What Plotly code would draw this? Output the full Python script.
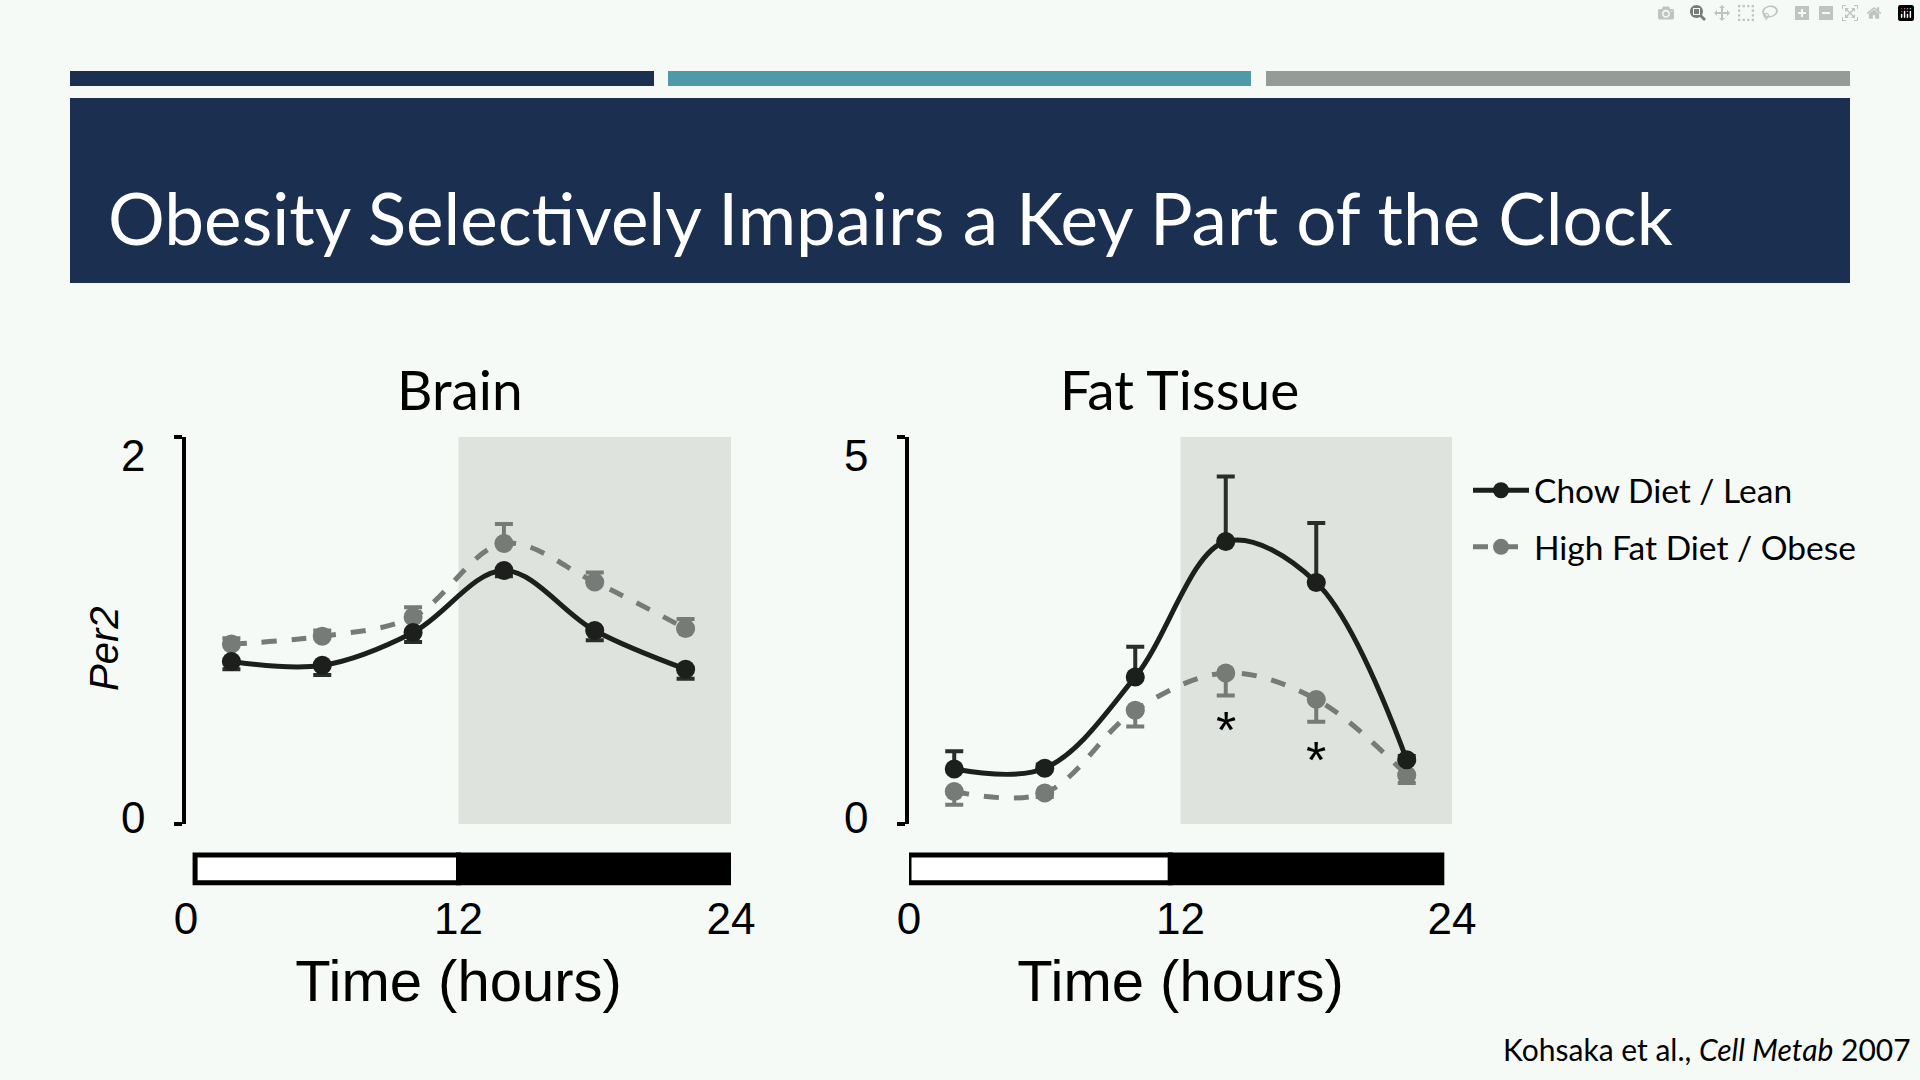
import plotly.graph_objects as go

# ------------------------------------------
# data (Per2 expression)
# ------------------------------------------
hours = [2, 6, 10, 14, 18, 22]

brain_chow = [0.84, 0.82, 0.99, 1.31, 1.00, 0.80]
brain_chow_err = [0.04, 0.05, 0.05, 0.03, 0.05, 0.05]
brain_hfd = [0.93, 0.97, 1.07, 1.45, 1.25, 1.01]
brain_hfd_err = [0.03, 0.03, 0.05, 0.10, 0.05, 0.05]

fat_chow = [0.71, 0.72, 1.90, 3.65, 3.12, 0.83]
fat_chow_err = [0.23, 0.05, 0.39, 0.84, 0.77, 0.05]
fat_hfd = [0.42, 0.40, 1.47, 1.95, 1.61, 0.63]
fat_hfd_err = [0.17, 0.05, 0.21, 0.29, 0.29, 0.10]

light_phase = [0.4, 12]
dark_phase = [12, 24]
x_ticks = [0, 12, 24]
brain_yticks = [0, 2]
fat_yticks = [0, 5]

CHOW = "#1c1f1c"
HFD = "#777b77"
BG = "#f6faf6"
SHADE = "#dfe3de"
W, H = 1920, 1080


def px_x(v):
    return v / W


def px_y(v):
    return 1 - v / H


fig = go.Figure()

panels = [
    ("x", "y", brain_chow, brain_chow_err, brain_hfd, brain_hfd_err, False),
    ("x2", "y2", fat_chow, fat_chow_err, fat_hfd, fat_hfd_err, True),
]

for xa, ya, chow, chow_err, hfd, hfd_err, legend in panels:
    brain = xa == "x"
    fig.add_trace(go.Scatter(
        x=hours, y=hfd, xaxis=xa, yaxis=ya,
        mode="lines+markers", name="High Fat Diet / Obese",
        legendgroup="hfd", legendrank=2, showlegend=legend,
        line=dict(color=HFD, width=5, dash="dash", shape="spline"),
        marker=dict(size=19, color=HFD),
        error_y=dict(type="data", symmetric=False,
                     array=hfd_err if brain else [0] * 6,
                     arrayminus=[0] * 6 if brain else hfd_err,
                     color=HFD, thickness=4, width=9),
    ))
    fig.add_trace(go.Scatter(
        x=hours, y=chow, xaxis=xa, yaxis=ya,
        mode="lines+markers", name="Chow Diet / Lean",
        legendgroup="chow", legendrank=1, showlegend=legend,
        line=dict(color=CHOW, width=5, shape="spline"),
        marker=dict(size=19, color=CHOW),
        error_y=dict(type="data", symmetric=False,
                     array=[0] * 6 if brain else chow_err,
                     arrayminus=chow_err if brain else [0] * 6,
                     color="#2a2e2a", thickness=4, width=9),
    ))

shapes = [
    # header bars + banner
    dict(type="rect", xref="paper", yref="paper", x0=px_x(70), x1=px_x(654),
         y0=px_y(86), y1=px_y(71), fillcolor="#1b2f50", line_width=0),
    dict(type="rect", xref="paper", yref="paper", x0=px_x(668), x1=px_x(1251),
         y0=px_y(86), y1=px_y(71), fillcolor="#4f9aa8", line_width=0),
    dict(type="rect", xref="paper", yref="paper", x0=px_x(1266), x1=px_x(1850),
         y0=px_y(86), y1=px_y(71), fillcolor="#949c98", line_width=0),
    dict(type="rect", xref="paper", yref="paper", x0=px_x(70), x1=px_x(1850),
         y0=px_y(283), y1=px_y(98), fillcolor="#1b3050", line_width=0),
]

# the fat-tissue light/dark bar sits a little left in the original figure
for xa, ya, shift in [("x", "y", 0), ("x2", "y2", -0.45)]:
    # dark phase shading
    shapes.append(dict(type="rect", xref=xa, yref=ya + " domain",
                       x0=dark_phase[0], x1=dark_phase[1], y0=0, y1=1,
                       fillcolor=SHADE, line_width=0, layer="below"))
    # light/dark bar under the axis
    shapes.append(dict(type="rect", xref=xa, yref=ya + " domain",
                       x0=max(light_phase[0] + shift, 0), x1=light_phase[1] + shift,
                       y0=-0.152, y1=-0.080,
                       fillcolor="white", line=dict(color="black", width=5)))
    shapes.append(dict(type="rect", xref=xa, yref=ya + " domain",
                       x0=dark_phase[0] + shift, x1=dark_phase[1] + shift,
                       y0=-0.152, y1=-0.080,
                       fillcolor="black", line=dict(color="black", width=5)))

tick_font = dict(family="Liberation Sans", size=44, color="black")
title_font = dict(family="Liberation Sans", size=58, color="black")

xcommon = dict(range=[0, 24], anchor="free", position=px_y(883),
               tickvals=x_ticks, showline=False, showgrid=False,
               zeroline=False, ticks="", tickfont=tick_font,
               ticklabelstandoff=6, automargin=False,
               title=dict(text="Time (hours)", font=title_font, standoff=18))
ycommon = dict(domain=[px_y(824), px_y(437)], showline=True, linewidth=4,
               linecolor="black", ticks="outside", ticklen=8, tickwidth=4,
               tickcolor="black", showgrid=False, zeroline=False,
               showticklabels=False, automargin=False)

annotations = [
    dict(text="Obesity Selectively Impairs a Key Part of the Clock",
         xref="paper", yref="paper", x=px_x(106), y=px_y(217),
         xanchor="left", yanchor="middle", showarrow=False,
         font=dict(family="Lato", size=71, color="white")),
    dict(text="Brain", xref="paper", yref="paper", x=px_x(460), y=px_y(389),
         xanchor="center", yanchor="middle", showarrow=False,
         font=dict(family="Lato", size=55, color="black")),
    dict(text="Fat Tissue", xref="paper", yref="paper", x=px_x(1179), y=px_y(389),
         xanchor="center", yanchor="middle", showarrow=False,
         font=dict(family="Lato", size=55, color="black")),
    dict(text="<i>Per2</i>", xref="paper", yref="paper", x=px_x(104), y=px_y(649),
         xanchor="center", yanchor="middle", textangle=-90, showarrow=False,
         font=dict(family="Liberation Sans", size=40, color="black")),
    dict(text="*", xref="x2", yref="y2", x=14, y=1.22, showarrow=False,
         xanchor="center", yanchor="middle",
         font=dict(family="Liberation Sans", size=52, color="black")),
    dict(text="*", xref="x2", yref="y2", x=18, y=0.83, showarrow=False,
         xanchor="center", yanchor="middle",
         font=dict(family="Liberation Sans", size=52, color="black")),
    dict(text="Kohsaka et al., <i>Cell Metab</i> 2007", xref="paper", yref="paper",
         x=px_x(1913), y=px_y(1049), xanchor="right", yanchor="middle",
         showarrow=False, font=dict(family="Lato", size=30, color="black")),
]

# y tick labels: in the original they sit slightly inside the axis ends
for xa, ya, ticks in [("x", "y", brain_yticks), ("x2", "y2", fat_yticks)]:
    for v in ticks:
        top = v == ticks[-1]
        annotations.append(dict(
            text=str(v), xref=xa + " domain", yref=ya, x=0, y=v,
            xshift=-53, yshift=-18 if top else 7,
            xanchor="center", yanchor="middle", showarrow=False,
            font=tick_font))

fig.update_layout(
    width=W, height=H,
    margin=dict(l=0, r=0, t=0, b=0, autoexpand=False),
    paper_bgcolor=BG, plot_bgcolor=BG,
    xaxis=dict(domain=[px_x(186), px_x(731)], **xcommon),
    xaxis2=dict(domain=[px_x(909), px_x(1452)], **xcommon),
    yaxis=dict(range=[0, 2], tickvals=brain_yticks, anchor="x", **ycommon),
    yaxis2=dict(range=[0, 5], tickvals=fat_yticks, anchor="x2", **ycommon),
    shapes=shapes,
    annotations=annotations,
    legend=dict(x=px_x(1468), y=px_y(462), xanchor="left", yanchor="top",
                bgcolor="rgba(0,0,0,0)", tracegroupgap=10, itemwidth=56,
                font=dict(family="Lato", size=33.5, color="black")),
)

fig.write_html("out.html", post_script="document.body.style.margin='0';")
